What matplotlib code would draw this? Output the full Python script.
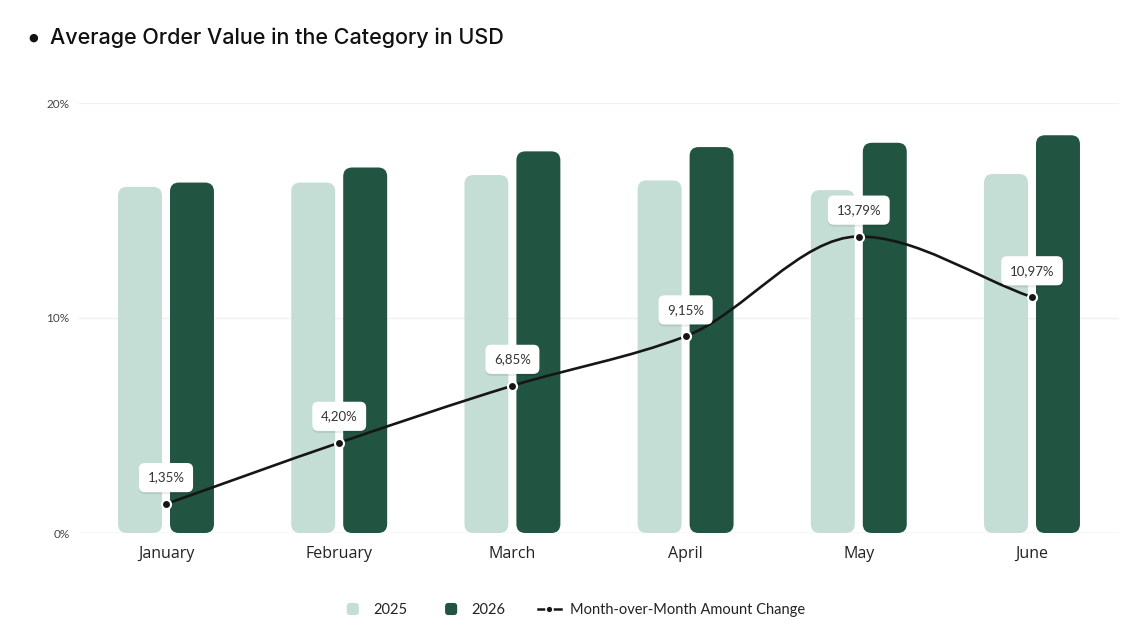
import numpy as np
import matplotlib
matplotlib.use("Agg")
import matplotlib.pyplot as plt
from matplotlib.patches import FancyBboxPatch, Patch
from matplotlib.lines import Line2D
from matplotlib.path import Path
from matplotlib.patches import PathPatch
from matplotlib.legend_handler import HandlerPatch
import matplotlib.patheffects as pe

months = ["January", "February", "March", "April", "May", "June"]
aov_2025 = [16.1, 16.3, 16.65, 16.4, 15.95, 16.7]
aov_2026 = [16.3, 17.0, 17.75, 17.95, 18.15, 18.5]
mom_change = [1.35, 4.20, 6.85, 9.15, 13.79, 10.97]
mom_labels = ["1,35%", "4,20%", "6,85%", "9,15%", "13,79%", "10,97%"]
yticks = [0, 10, 20]
ytick_labels = ["0%", "10%", "20%"]

light = "#c5ded5"
dark = "#215441"
linecol = "#161616"
font = "Lato"

W, H = 1148, 623
fig = plt.figure(figsize=(W / 100, H / 100), dpi=100)
ax = fig.add_axes([79.4 / W, 90 / H, 1039.2 / W, 430 / H])
ax.set_xlim(-0.5, 5.5)
ax.set_ylim(0, 20)

# rounded bars
x = np.arange(len(months))
bw = 44 / 173.3
gap = 8 / 173.3
bars1 = ax.bar(x - (bw + gap) / 2, aov_2025, bw, color=light)
bars2 = ax.bar(x + (bw + gap) / 2, aov_2026, bw, color=dark)
# pixel per data unit -> aspect for rounded corners
xpx = 1039.2 / 6.0
ypx = 430 / 20.0
aspect = xpx / ypx
rad = 9 / xpx
for bars in (bars1, bars2):
    for r in bars:
        bx, by = r.get_x(), r.get_y()
        w, h = r.get_width(), r.get_height()
        r.remove()
        p = FancyBboxPatch((bx, by), w, h,
                           boxstyle="round,pad=0,rounding_size=%f" % rad,
                           mutation_aspect=aspect,
                           fc=r.get_facecolor(), ec="none", zorder=2)
        ax.add_patch(p)

# smooth line (monotone cubic drawn as bezier path)
xs = x.astype(float)
ys = np.array(mom_change, dtype=float)
d = np.diff(ys) / np.diff(xs)
m = np.zeros_like(ys)
m[0], m[-1] = d[0], d[-1]
for i in range(1, len(ys) - 1):
    if d[i - 1] * d[i] <= 0:
        m[i] = 0
    else:
        m[i] = 2 / (1 / d[i - 1] + 1 / d[i])
verts = [(xs[0], ys[0])]
codes = [Path.MOVETO]
for i in range(len(xs) - 1):
    hx = xs[i + 1] - xs[i]
    verts += [(xs[i] + hx / 3, ys[i] + m[i] * hx / 3),
              (xs[i + 1] - hx / 3, ys[i + 1] - m[i + 1] * hx / 3),
              (xs[i + 1], ys[i + 1])]
    codes += [Path.CURVE4] * 3
ax.add_patch(PathPatch(Path(verts, codes), fc="none", ec=linecol,
                       lw=1.9, zorder=4, capstyle="round"))
ax.plot(xs, ys, "o", ms=6.5, color=linecol, mec="white", mew=1.5, zorder=5)

for xi, yi, lab in zip(xs, ys, mom_labels):
    t = ax.annotate(lab, (xi, yi), xytext=(0, 19), textcoords="offset points",
                    ha="center", va="center", fontsize=9.5, color="#333333",
                    family=font, zorder=6,
                    bbox=dict(boxstyle="round,pad=0.65,rounding_size=0.45",
                              fc="white", ec="none"))
    t.get_bbox_patch().set_path_effects(
        [pe.SimplePatchShadow(offset=(0, -1.5), shadow_rgbFace="#000000", alpha=0.08),
         pe.Normal()])

# axes styling
ax.set_yticks(yticks)
ax.set_yticklabels(ytick_labels, family=font, fontsize=8.5, color="#444444")
ax.set_xticks(x)
ax.set_xticklabels(months, family="Open Sans", fontsize=11.5, color="#222222")
ax.tick_params(axis="both", length=0)
ax.tick_params(axis="y", pad=7)
ax.tick_params(axis="x", pad=9)
for s in ax.spines.values():
    s.set_visible(False)
ax.grid(axis="y", color="#edf2ef", lw=1, zorder=0)
ax.axhline(0, color="#dde8e3", lw=1, zorder=1)
ax.set_axisbelow(True)

# title
fig.text(28 / W, 1 - 38 / H, "\u25cf", fontsize=8, va="center", ha="left", color="#111111")
fig.text(50 / W, 1 - 38 / H, "Average Order Value in the Category in USD",
         family="Inter", fontweight="medium", fontsize=15.5, va="center",
         ha="left", color="#111111")


# legend
class RoundHandler(HandlerPatch):
    def create_artists(self, legend, orig_handle, xdescent, ydescent,
                       width, height, fontsize, trans):
        s = min(width, height)
        p = FancyBboxPatch((width / 2 - s / 2 - xdescent, -ydescent + (height - s) / 2), s, s,
                           boxstyle="round,pad=0,rounding_size=%f" % (s * 0.25),
                           fc=orig_handle.get_facecolor(), ec="none", transform=trans)
        return [p]


handles = [Patch(fc=light, label="2025"), Patch(fc=dark, label="2026"),
           Line2D([0], [0], color=linecol, lw=1.8, marker="o", ms=5,
                  mec="white", mew=1.2, label="Month-over-Month Amount Change")]
fig.legend(handles=handles, loc="center", bbox_to_anchor=(573 / W, 1 - 610 / H),
           ncol=3, frameon=False, handler_map={Patch: RoundHandler()},
           prop=dict(family=font, size=10.5), handlelength=1.6, handleheight=0.9,
           handletextpad=0.6, columnspacing=2.2, labelcolor="#222222")

fig.savefig("out.png", dpi=100, facecolor="white")
